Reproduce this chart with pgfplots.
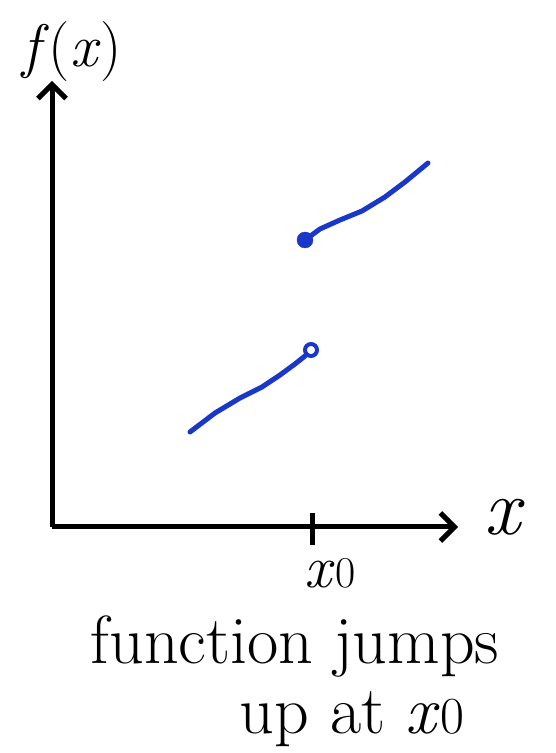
\documentclass[border=0pt]{standalone}
\usepackage{pgfplots}
\pgfplotsset{compat=1.18}
\usetikzlibrary{arrows.meta}
\definecolor{pen}{RGB}{25,55,200}
\begin{document}
\begin{tikzpicture}
\begin{axis}[
  width=556pt, height=753pt, scale only axis,
  xmin=0, xmax=556, ymin=0, ymax=753,
  hide axis, clip=false,
]
\path[use as bounding box] (axis cs:0,0) rectangle (axis cs:556,753);
% axes
\addplot[black, line width=5pt, -{Straight Barb[length=14pt,width=28pt]}] coordinates {(52,226) (52,672)};
\addplot[black, line width=5pt, -{Straight Barb[length=14pt,width=28pt]}] coordinates {(52,226) (458,226)};
\addplot[black, line width=5pt] coordinates {(312,240) (312,208)};
% lower branch
\addplot[pen, line width=5pt, line join=round, line cap=round] coordinates {(190,321) (215,340) (240,355) (262,366) (280,378) (295,389) (305,397)};
\addplot[pen, line width=4pt, only marks, mark=o, mark size=6pt, mark options={fill=white}] coordinates {(311,403)};
% upper branch
\addplot[pen, line width=5pt, line join=round, line cap=round] coordinates {(305,513) (320,524) (340,533) (362,542) (385,556) (405,571) (428,590)};
\addplot[pen, only marks, mark=*, mark size=8pt] coordinates {(305,513)};
% labels
\node[font=\fontsize{60}{64}\selectfont] at (axis cs:72,701) {\textit{f}(\textit{x})};
\node[font=\fontsize{80}{80}\selectfont\itshape] at (axis cs:502,236) {x};
\node[font=\fontsize{60}{64}\selectfont] at (axis cs:330,180) {\textit{x}{\fontsize{44}{48}\selectfont 0}};
\node[font=\fontsize{68}{72}\selectfont] at (axis cs:295,106) {function jumps};
\node[font=\fontsize{68}{72}\selectfont] at (axis cs:352,34) {up at \textit{x}{\fontsize{52}{54}\selectfont 0}};
\end{axis}
\end{tikzpicture}
\end{document}
